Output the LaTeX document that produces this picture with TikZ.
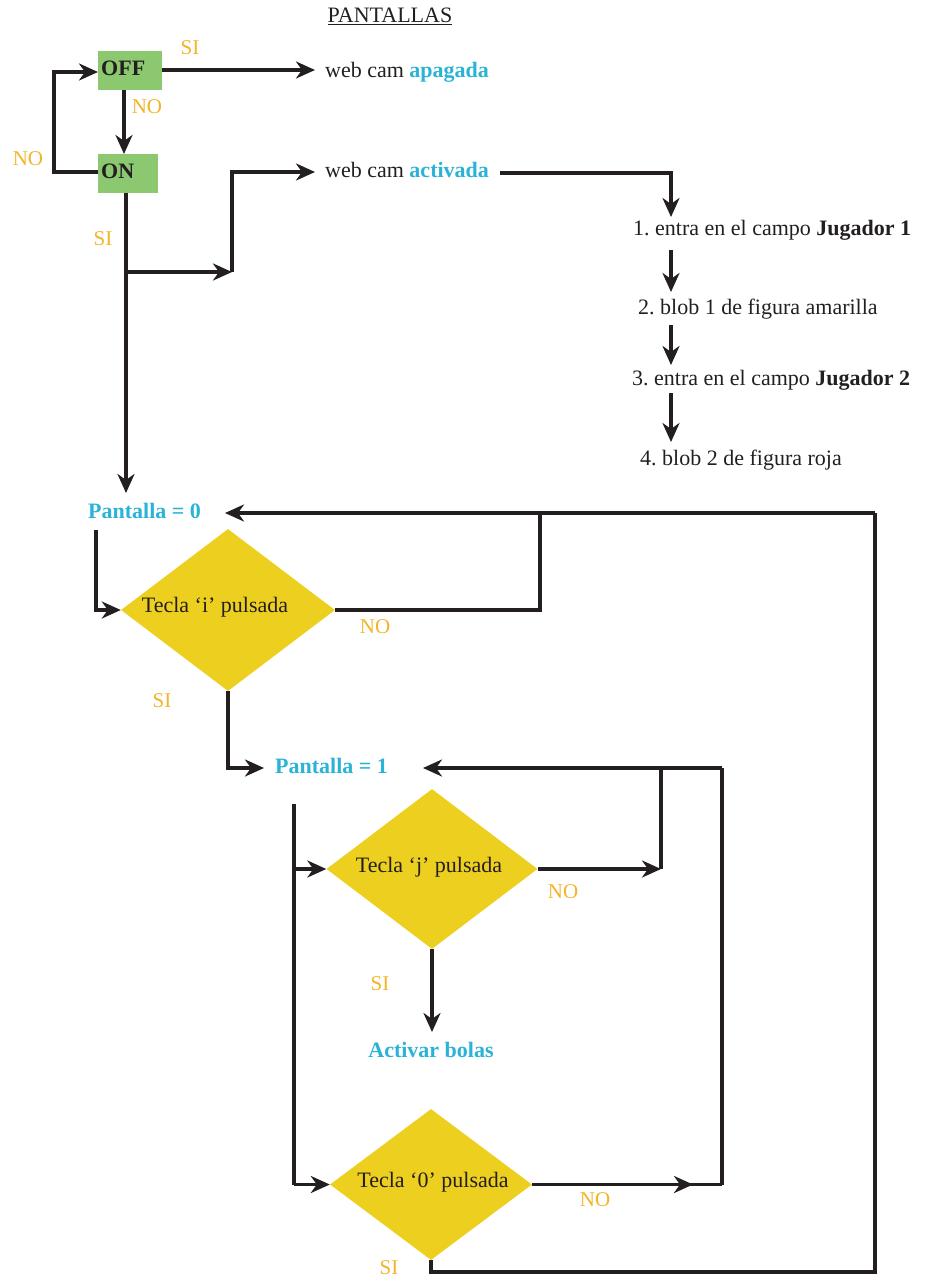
\documentclass[tikz,border=0pt]{standalone}
\usepackage{fontspec}
\setmainfont{Liberation Serif}
\usetikzlibrary{arrows.meta,shapes.geometric}
\definecolor{linec}{HTML}{231F20}
\definecolor{boxg}{HTML}{8BC86F}
\definecolor{diay}{HTML}{EDCF1F}
\definecolor{cyanT}{HTML}{2AB3D6}
\definecolor{lblc}{HTML}{F2B52A}
\frenchspacing
\tikzset{
  txt/.style={inner sep=0pt, font=\fontsize{22}{26}\selectfont, text=linec, text height=15pt, text depth=5pt},
  cyantxt/.style={txt, text=cyanT, font=\fontsize{22}{26}\selectfont\bfseries},
  lbl/.style={inner sep=0pt, font=\fontsize{21}{25}\selectfont, text=lblc},
  gbox/.style={fill=boxg, draw=none, inner sep=0pt, minimum width=#1, minimum height=39pt},
  dia/.style={diamond, fill=diay, draw=none, inner sep=0pt},
  conn/.style={draw=linec, line width=3.2pt},
  arr/.style={conn, -{Stealth[length=19pt,width=17pt,inset=6pt]}},
}
\begin{document}
\frenchspacing
\begin{tikzpicture}[x=1pt,y=-1pt]
\useasboundingbox (0,0) rectangle (928,1282);

% title
\node[txt, anchor=center] (title) at (390,18) {\underline{PANTALLAS}};

% green boxes
\node[gbox=64pt] (off) at (130,70.5) {};
\node[txt, anchor=west, font=\fontsize{22}{26}\selectfont\bfseries] (offt) at (101,70) {OFF};
\node[gbox=60pt] (on) at (128,173.5) {};
\node[txt, anchor=west, font=\fontsize{22}{26}\selectfont\bfseries] (ont) at (101,173) {ON};

% texts top
\node[txt, anchor=west] (apag) at (325,72) {web cam \textcolor{cyanT}{\bfseries apagada}};
\node[txt, anchor=west] (activ) at (325,172) {web cam \textcolor{cyanT}{\bfseries activada}};
\node[txt, anchor=west] (j1) at (633,230) {1. entra en el campo \textbf{Jugador 1}};
\node[txt, anchor=west] (j2) at (638,309) {2. blob 1 de figura amarilla};
\node[txt, anchor=west] (j3) at (632,380) {3. entra en el campo \textbf{Jugador 2}};
\node[txt, anchor=west] (j4) at (640,460) {4. blob 2 de figura roja};

% pantallas
\node[cyantxt, anchor=west] (p0) at (88,513) {Pantalla = 0};
\node[cyantxt, anchor=west] (p1) at (275,768) {Pantalla = 1};
\node[cyantxt, anchor=center] (act) at (431,1052) {Activar bolas};

% diamonds
\node[dia, minimum width=214pt, minimum height=162pt] (d1) at (228,610) {};
\node[txt, anchor=center] (d1t) at (215,607) {Tecla ‘i’ pulsada};
\node[dia, minimum width=211pt, minimum height=160pt] (d2) at (432,869) {};
\node[txt, anchor=center] (d2t) at (429,867) {Tecla ‘j’ pulsada};
\node[dia, minimum width=202pt, minimum height=151pt] (d3) at (431,1184.5) {};
\node[txt, anchor=center] (d3t) at (433,1182) {Tecla ‘0’ pulsada};

% labels
\node[lbl] (l1) at (190,48) {SI};
\node[lbl] (l2) at (147,107) {NO};
\node[lbl] (l3) at (28,159) {NO};
\node[lbl] (l4) at (103,239) {SI};
\node[lbl] (l5) at (375,627) {NO};
\node[lbl] (l6) at (162,701) {SI};
\node[lbl] (l7) at (563,892) {NO};
\node[lbl] (l8) at (380,984) {SI};
\node[lbl] (l9) at (595,1200) {NO};
\node[lbl] (l10) at (389,1268) {SI};

% coordinates
\coordinate (offE) at (162,70);
\coordinate (apagW) at (315,70);
\coordinate (offS) at (124,90);
\coordinate (onN) at (124,154);
\coordinate (onW) at (98,172);
\coordinate (loopB) at (54,172);
\coordinate (loopT) at (54,72);
\coordinate (offW) at (98,72);
\coordinate (onS) at (126,193);
\coordinate (p0N) at (126,493);
\coordinate (br) at (126,272);
\coordinate (brE) at (232,272);
\coordinate (brT) at (232,172);
\coordinate (activW) at (315,172);
\coordinate (actE) at (500,173);
\coordinate (actC) at (671,173);
\coordinate (j1N) at (671,217);
\coordinate (a2s) at (671,250);
\coordinate (a2e) at (671,292);
\coordinate (a3s) at (671,325);
\coordinate (a3e) at (671,365);
\coordinate (a4s) at (671,393);
\coordinate (a4e) at (671,442);
\coordinate (p0S) at (96,530);
\coordinate (p0C) at (96,610);
\coordinate (d1R) at (540,610);
\coordinate (p0R) at (540,513);
\coordinate (p0E) at (225,513);
\coordinate (bigR) at (875,513);
\coordinate (bigB) at (875,1272);
\coordinate (d1B) at (228,768);
\coordinate (p1W) at (264,768);
\coordinate (lvT) at (294,804);
\coordinate (lvJ) at (294,869);
\coordinate (lvB) at (294,1184.5);
\coordinate (d2R) at (661,869);
\coordinate (d2RT) at (661,768);
\coordinate (p1E) at (423,768);
\coordinate (rC) at (722,768);
\coordinate (rB) at (722,1184.5);
\coordinate (d3mid) at (693,1184.5);
\coordinate (actN) at (432,1032);
\coordinate (d3B) at (431,1272);

% connectors
\draw[arr] (offE) -- (apagW);
\draw[arr] (offS) -- (onN);
\draw[arr] (onW) -- (loopB) -- (loopT) -- (offW);
\draw[arr] (onS) -- (p0N);
\draw[arr] (br) -- (brE);
\draw[arr] (brE) -- (brT) -- (activW);
\draw[arr] (actE) -- (actC) -- (j1N);
\draw[arr] (a2s) -- (a2e);
\draw[arr] (a3s) -- (a3e);
\draw[arr] (a4s) -- (a4e);

\draw[arr] (p0S) -- (p0C) -- (d1.west);
\draw[conn] (d1.east) -- (d1R) -- (p0R);
\draw[arr] (bigR) -- (p0E);
\draw[arr] (d1.south) -- (d1B) -- (p1W);

\draw[conn] (lvT) -- (lvB);
\draw[arr] (lvJ) -- (d2.west);
\draw[arr] (lvB) -- (d3.west);
\draw[arr] (d2.east) -- (d2R);
\draw[conn] (d2R) -- (d2RT);
\draw[arr] (rC) -- (p1E);
\draw[conn] (rB) -- (rC);
\draw[conn] (d3.east) -- (rB);
\draw[arr] (d3.east) -- (d3mid);
\draw[arr] (d2.south) -- (actN);
\draw[conn] (d3.south) -- (d3B) -- (bigB) -- (bigR);
\end{tikzpicture}
\end{document}
